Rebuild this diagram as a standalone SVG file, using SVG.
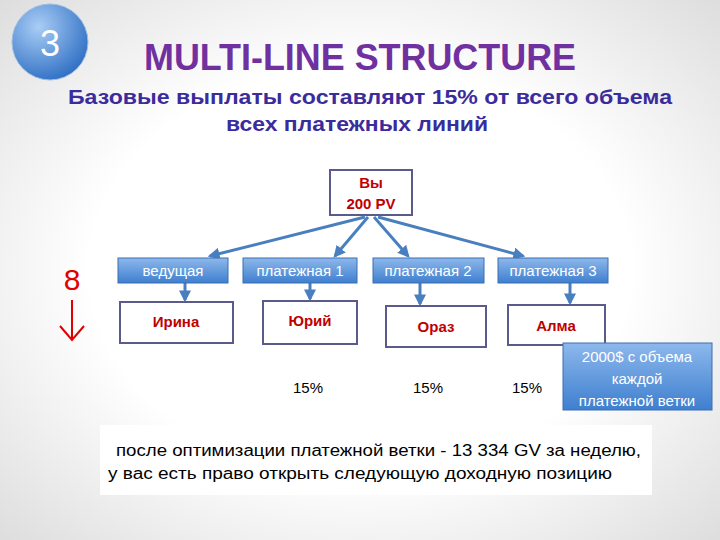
<svg xmlns="http://www.w3.org/2000/svg" width="720" height="540" viewBox="0 0 720 540">
<defs>
<radialGradient id="bg" cx="50%" cy="50%" r="75%"><stop offset="0.5" stop-color="#ffffff"/><stop offset="1" stop-color="#d9d9d9"/></radialGradient>
<radialGradient id="circ" cx="35%" cy="30%" r="75%"><stop offset="0" stop-color="#a9cdf5"/><stop offset="1" stop-color="#2f6fc4"/></radialGradient>
<linearGradient id="bar" x1="0" y1="0" x2="0" y2="1"><stop offset="0" stop-color="#8db8ec"/><stop offset="1" stop-color="#3e7fcf"/></linearGradient>
<marker id="ah" viewBox="0 0 10 10" refX="8" refY="5" markerWidth="4" markerHeight="4" orient="auto"><path d="M0,0 L10,5 L0,10 z" fill="#4a7fbf"/></marker>
<style>
.bar{fill:url(#bar);stroke:#3c6fb0;stroke-width:1}
.bt{font-family:"Liberation Sans",sans-serif;font-size:15px;fill:#ffffff;text-anchor:middle}
.box{fill:#ffffff;stroke:#5a5a8c;stroke-width:2}
.nt{font-family:"Liberation Sans",sans-serif;font-size:15px;font-weight:bold;fill:#c00000;text-anchor:middle}
.pc{font-family:"Liberation Sans",sans-serif;font-size:15px;fill:#000;text-anchor:middle}
.c{stroke:#4a7fbf;stroke-width:3;fill:none;marker-end:url(#ah)}
</style>
</defs>
<rect width="720" height="540" fill="url(#bg)"/>
<g id="badge"><circle cx="50" cy="42" r="38" fill="url(#circ)" stroke="#9fbde0"/><text x="50" y="56" font-family="Liberation Sans Narrow,Liberation Sans,sans-serif" font-size="36" fill="#fff" text-anchor="middle">3</text></g>
<text x="360" y="70" font-family="Liberation Sans,sans-serif" font-size="36" font-weight="bold" fill="#7030a0" text-anchor="middle" textLength="432" lengthAdjust="spacingAndGlyphs">MULTI-LINE STRUCTURE</text>
<text x="370" y="104" font-family="Liberation Sans,sans-serif" font-size="21" font-weight="bold" fill="#3b2c9e" text-anchor="middle" textLength="604" lengthAdjust="spacingAndGlyphs">Базовые выплаты составляют 15% от всего объема</text>
<text x="357" y="131" font-family="Liberation Sans,sans-serif" font-size="21" font-weight="bold" fill="#3b2c9e" text-anchor="middle" textLength="262" lengthAdjust="spacingAndGlyphs">всех платежных линий</text>
<g id="top"><rect x="330" y="170" width="82" height="45" class="box"/><text x="371" y="188" class="nt" font-size="12">Вы</text><text x="371" y="209" class="nt" font-size="14" font-weight="normal">200 PV</text></g>
<g id="connectors">
<line x1="365" y1="217" x2="210" y2="256" class="c"/>
<line x1="368" y1="217" x2="335" y2="256" class="c"/>
<line x1="374" y1="217" x2="408" y2="256" class="c"/>
<line x1="378" y1="217" x2="523" y2="256" class="c"/>
<line x1="185" y1="283" x2="185" y2="300" class="c"/>
<line x1="310" y1="283" x2="310" y2="299" class="c"/>
<line x1="420" y1="283" x2="420" y2="304" class="c"/>
<line x1="570" y1="283" x2="570" y2="303" class="c"/>
</g>
<g id="b0"><rect x="118" y="258" width="110" height="25" class="bar"/><text x="173" y="276" class="bt">ведущая</text></g>
<g id="b1"><rect x="243" y="258" width="114" height="25" class="bar"/><text x="300" y="276" class="bt">платежная 1</text></g>
<g id="b2"><rect x="373" y="258" width="111" height="25" class="bar"/><text x="428" y="276" class="bt">платежная 2</text></g>
<g id="b3"><rect x="498" y="258" width="110" height="25" class="bar"/><text x="553" y="276" class="bt">платежная 3</text></g>
<g id="n0"><rect x="120" y="302" width="113" height="41" class="box"/><text x="176" y="327" class="nt">Ирина</text></g>
<g id="n1"><rect x="263" y="301" width="94" height="43" class="box"/><text x="310" y="326" class="nt">Юрий</text></g>
<g id="n2"><rect x="386" y="306" width="100" height="41" class="box"/><text x="436" y="332" class="nt">Ораз</text></g>
<g id="n3"><rect x="508" y="305" width="97" height="40" class="box"/><text x="556" y="331" class="nt">Алма</text></g>
<rect x="270" y="364" width="298" height="44" fill="#ffffff"/>
<text x="308" y="393" class="pc">15%</text><text x="428" y="393" class="pc">15%</text><text x="527" y="393" class="pc">15%</text>
<g id="note"><rect x="563" y="343" width="149" height="67" fill="url(#bar)" stroke="#3c6fb0"/>
<text x="637" y="362" class="bt" font-size="14">2000$  с объема</text><text x="637" y="384" class="bt" font-size="14">каждой</text><text x="637" y="406" class="bt" font-size="14">платежной ветки</text></g>
<text x="72" y="290" font-family="Liberation Sans,sans-serif" font-size="30" fill="#e00000" text-anchor="middle">8</text>
<path d="M72,300 V340 M60,326 L72,340 L84,326" stroke="#e00000" stroke-width="2" fill="none"/>
<rect x="100" y="425" width="552" height="70" fill="#ffffff"/>
<text x="116" y="456" font-family="Liberation Sans,sans-serif" font-size="16" fill="#000" textLength="525" lengthAdjust="spacingAndGlyphs">после оптимизации платежной ветки - 13 334 GV за неделю,</text>
<text x="108" y="479" font-family="Liberation Sans,sans-serif" font-size="16" fill="#000" textLength="504" lengthAdjust="spacingAndGlyphs">у вас есть право открыть следующую доходную позицию</text>
</svg>
